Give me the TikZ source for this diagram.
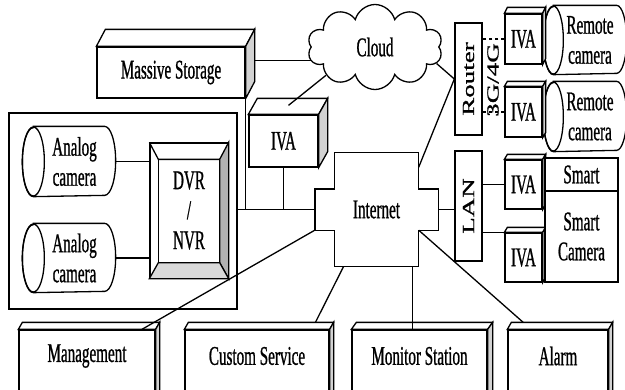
\documentclass[tikz,border=0pt]{standalone}
\usepackage{fontspec}
\setmainfont{Liberation Serif}[FakeStretch=0.56, FakeBold=0.8]
\newfontfamily\upfont{Liberation Serif}[FakeBold=0.8]
\usepackage{graphicx}
\usetikzlibrary{positioning, calc, backgrounds, shapes.symbols}

\newcommand{\boxtop}[3]{%
  \draw[fill=white] (#1.north west) -- ($(#1.north west)+(#2,#3)$) -- ($(#1.north east)+(#2,#3)$) -- (#1.north east) -- cycle;
  \draw[fill=gray!35] (#1.north east) -- ($(#1.north east)+(#2,#3)$) -- ($(#1.south east)+(#2,#3)$) -- (#1.south east) -- cycle;}
% camera body: node spans from the centre of the front ellipse to the far end
\newcommand{\camshape}[3]{%
  \draw[fill=white] (#1.north west) -- ($(#1.north east)+(-#2,0)$)
    arc[start angle=-90, end angle=90, x radius=#2, y radius=#3] -- (#1.south west)
    arc[start angle=90, end angle=270, x radius=#2, y radius=#3] -- cycle;
  \draw (#1.west) ellipse[x radius=#2, y radius=#3];}

\begin{document}
\begin{tikzpicture}[x=1pt, y=-1pt, line width=1.3pt,
    every node/.style={font=\fontsize{27}{30}\selectfont, align=center},
    facebox/.style={draw, fill=white, inner sep=0pt},
    cam/.style={inner sep=0pt},
    turned/.style={font=\upfont\fontsize{27}{30}\selectfont, inner sep=0pt}]
    \useasboundingbox (0,0) rectangle (625,389);
    \clip (0,0) rectangle (625,389);

    % analog side
    \node[draw, minimum width=228, minimum height=196, inner sep=0pt] (encl) at (123,211) {};
    \node[cam, minimum width=81, minimum height=69] (ac1) at (74.5,161.5) {Analog\\camera};
    \node[cam, minimum width=81, minimum height=68] (ac2) at (74.5,258) {Analog\\camera};
    \node[facebox, minimum width=78, minimum height=135] (dvr) at (189,210.5) {DVR\\/\\NVR};
    \coordinate (dvrA) at ($(dvr.north west)+(9,17)$);
    \coordinate (dvrB) at ($(dvr.north east)+(-9,17)$);
    \coordinate (dvrC) at ($(dvr.south east)+(-9,-16)$);
    \coordinate (dvrD) at ($(dvr.south west)+(9,-16)$);
    \draw[fill=gray!60] (dvr.north east) -- (dvrB) -- (dvrC) -- (dvr.south east) -- cycle;
    \draw[fill=gray!30] (dvr.south west) -- (dvrD) -- (dvrC) -- (dvr.south east) -- cycle;
    \draw (dvr.north west) -- (dvrA) -- (dvrB);
    \draw (dvrA) -- (dvrD);

    % storage, cloud, iva
    \node[facebox, minimum width=148, minimum height=51] (ms) at (171,72.5) {Massive Storage};
    \boxtop{ms}{9}{-17}
    \node[facebox, minimum width=69, minimum height=52] (ivam) at (283.5,141) {IVA};
    \boxtop{ivam}{9}{-16}
    \node[cloud, draw, fill=white, cloud puffs=10, minimum width=135, minimum height=85] (cloud) at (375,47) {Cloud};

    % internet
    \node[minimum width=83, minimum height=113, inner sep=0pt] (inet) at (376.5,209.5) {Internet};
    \node[minimum width=122, minimum height=40, inner sep=0pt] (itab) at (inet) {};
    \draw (inet.north west) -- (inet.north east) -- (inet.east |- itab.north) -- (itab.north east)
      -- (itab.south east) -- (inet.east |- itab.south) -- (inet.south east) -- (inet.south west)
      -- (inet.west |- itab.south) -- (itab.south west) -- (itab.north west) -- (inet.west |- itab.north) -- cycle;

    % router, lan and cameras
    \node[facebox, minimum width=27, minimum height=112, turned] (router) at (468.5,79) {\rotatebox{90}{\scalebox{1}[0.63]{Router}}};
    \node[facebox, minimum width=27, minimum height=110, turned] (lan) at (468.5,206) {\rotatebox{90}{\scalebox{1}[0.63]{LAN}}};
    \node[turned] (gg) at (493,80) {\rotatebox{90}{\scalebox{1}[0.63]{3G/4G}}};
    \node[cam, minimum width=72, minimum height=68] (rc1) at (590,40) {Remote\\camera};
    \node[cam, minimum width=72, minimum height=69] (rc2) at (590,116.5) {Remote\\camera};
    \node[facebox, minimum width=37, minimum height=50] (iva1) at (523.5,39) {IVA};
    \boxtop{iva1}{3}{-6}
    \node[facebox, minimum width=37, minimum height=50] (iva2) at (523.5,112) {IVA};
    \boxtop{iva2}{3}{-5}
    \node[facebox, minimum width=37, minimum height=49] (iva3) at (523.5,184.5) {IVA};
    \boxtop{iva3}{3}{-5}
    \node[facebox, minimum width=37, minimum height=49] (iva4) at (523.5,257.5) {IVA};
    \boxtop{iva4}{3}{-5}
    \node[facebox, minimum width=73, minimum height=33] (smart1) at (581.5,174.5) {Smart};
    \node[facebox, minimum width=73, minimum height=91] (smart2) at (581.5,236.5) {Smart\\Camera};

    % bottom row
    \node[facebox, minimum width=136, minimum height=70, label={[yshift=9pt]center:Management}] (mgmt) at (87,365) {};
    \boxtop{mgmt}{4}{-7}
    \node[facebox, minimum width=144, minimum height=70, label={[yshift=9pt]center:Custom Service}] (cust) at (257,365) {};
    \boxtop{cust}{4}{-7}
    \node[facebox, minimum width=135, minimum height=70, label={[yshift=9pt]center:Monitor Station}] (mon) at (419.5,365) {};
    \boxtop{mon}{5}{-7}
    \node[facebox, minimum width=100, minimum height=70, label={[yshift=9pt]center:Alarm}] (alarm) at (558,365) {};
    \boxtop{alarm}{4}{-7}

    \begin{scope}[on background layer]
    \begin{scope}[line width=1.3pt]
        \draw (ac1) -- (ac1 -| dvr.west);
        \draw (ac2) -- (ac2 -| dvr.west);
        \draw (encl.east |- itab.west) -- (itab.west);
        \draw (ms.south east) -- (ms.south east |- itab.west);
        \draw (ivam.south) -- (ivam.south |- itab.west);
        \draw (ms.9) -- (ms.9 -| cloud.center);
        \draw (cloud.-15) -- (router.west);
        \draw (inet.45) -- (router.west);
        \draw (itab.east) -- (itab.east -| lan.west);
        \draw[dash pattern=on 3pt off 3pt] (iva1.west) -- (iva1.west -| router.east);
        \draw[dash pattern=on 3pt off 3pt] (iva2.west) -- (iva2.west -| router.east);
        \draw (iva3.west) -- (iva3.west -| lan.east);
        \draw (iva4.north west) -- (iva4.north west -| lan.east);
        \draw (inet.-120) -- (cust.33);
        \draw (inet.east |- itab.south) -- (alarm.127);
        \camshape{ac1}{11}{34.5}
        \camshape{ac2}{11}{34}
        \camshape{rc1}{10}{34}
        \camshape{rc2}{10}{34.5}
    \end{scope}
    \end{scope}
    \draw ($(ivam.north)+(5,-9)$) -- (cloud.210);
    \draw (itab.south west) -- (mgmt.33);
    \draw (inet.-58) -- (inet.-58 |- mon.north);
\end{tikzpicture}
\end{document}
